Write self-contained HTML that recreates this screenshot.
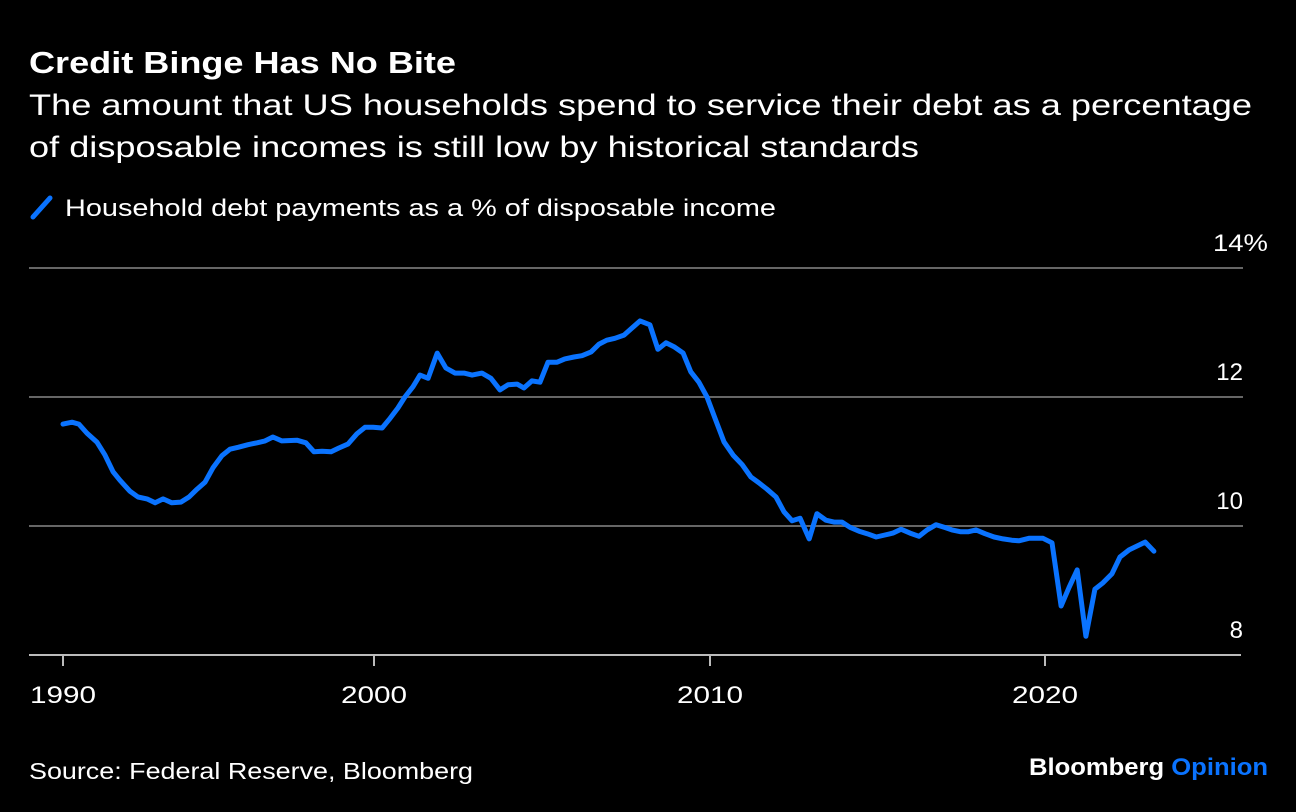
<!DOCTYPE html>
<html><head><meta charset="utf-8"><style>
body{margin:0;background:#000;width:1296px;height:812px;overflow:hidden;font-family:"Liberation Sans",sans-serif;color:#fff}
svg{position:absolute;left:0;top:0}
</style></head><body>
<svg width="1296" height="812">
<text x="29" y="73" font-size="31" font-weight="bold" fill="#fff" textLength="427" lengthAdjust="spacingAndGlyphs">Credit Binge Has No Bite</text>
<text x="29" y="115" font-size="30" fill="#fff" textLength="1223" lengthAdjust="spacingAndGlyphs">The amount that US households spend to service their debt as a percentage</text>
<text x="29" y="157" font-size="30" fill="#fff" textLength="890" lengthAdjust="spacingAndGlyphs">of disposable incomes is still low by historical standards</text>
<line x1="33" y1="217" x2="50" y2="198" stroke="#0a73ff" stroke-width="5" stroke-linecap="round"/>
<text x="65" y="216" font-size="24" fill="#fff" textLength="711" lengthAdjust="spacingAndGlyphs">Household debt payments as a % of disposable income</text>
<g id="grid"></g>
<g id="xaxis"></g>
<path id="line" fill="none" stroke="#0a73ff" stroke-width="5" stroke-linejoin="round" stroke-linecap="round"/>
<text x="29" y="779" font-size="23" fill="#fff" textLength="444" lengthAdjust="spacingAndGlyphs">Source: Federal Reserve, Bloomberg</text>
<text x="1029" y="775" font-size="24" font-weight="bold" textLength="239" lengthAdjust="spacingAndGlyphs"><tspan fill="#fff">Bloomberg </tspan><tspan fill="#0a73ff">Opinion</tspan></text>
</svg>
<script>
const dates=[1990.0,1990.29,1990.51,1990.77,1991.09,1991.35,1991.61,1991.83,1992.15,1992.41,1992.7,1992.96,1993.22,1993.5,1993.79,1994.05,1994.31,1994.57,1994.82,1995.11,1995.37,1995.63,1995.95,1996.24,1996.5,1996.75,1997.04,1997.52,1997.81,1998.07,1998.33,1998.62,1998.87,1999.16,1999.45,1999.71,1999.97,2000.24,2000.48,2000.71,2000.92,2001.16,2001.37,2001.61,2001.88,2002.14,2002.41,2002.68,2002.92,2003.21,2003.48,2003.75,2003.99,2004.26,2004.46,2004.7,2004.94,2005.18,2005.45,2005.68,2005.95,2006.19,2006.46,2006.7,2006.93,2007.17,2007.44,2007.68,2007.92,2008.21,2008.45,2008.69,2008.93,2009.2,2009.43,2009.67,2009.91,2010.15,2010.42,2010.69,2010.96,2011.22,2011.46,2011.7,2011.97,2012.21,2012.45,2012.69,2012.96,2013.19,2013.46,2013.7,2013.94,2014.18,2014.45,2014.69,2014.96,2015.22,2015.46,2015.7,2015.97,2016.24,2016.48,2016.75,2016.99,2017.22,2017.49,2017.7,2017.94,2018.21,2018.48,2018.75,2019.01,2019.22,2019.52,2019.94,2020.21,2020.48,2020.72,2020.96,2021.22,2021.49,2021.73,2022.0,2022.24,2022.51,2022.75,2022.99,2023.25];
const values=[11.58,11.61,11.58,11.44,11.30,11.10,10.84,10.71,10.54,10.45,10.42,10.36,10.42,10.36,10.37,10.45,10.57,10.68,10.90,11.09,11.19,11.22,11.26,11.29,11.32,11.38,11.32,11.33,11.29,11.15,11.16,11.15,11.21,11.27,11.43,11.53,11.53,11.52,11.67,11.83,12.00,12.16,12.34,12.29,12.68,12.45,12.37,12.37,12.34,12.37,12.29,12.11,12.19,12.20,12.14,12.25,12.23,12.54,12.54,12.59,12.62,12.64,12.70,12.82,12.88,12.91,12.96,13.07,13.18,13.12,12.74,12.84,12.78,12.68,12.39,12.23,12.00,11.67,11.30,11.10,10.95,10.76,10.67,10.57,10.45,10.22,10.08,10.12,9.80,10.19,10.09,10.06,10.06,9.98,9.92,9.88,9.83,9.86,9.89,9.95,9.89,9.84,9.94,10.02,9.98,9.94,9.91,9.91,9.94,9.88,9.83,9.80,9.78,9.77,9.81,9.81,9.74,8.76,9.05,9.32,8.29,9.02,9.12,9.26,9.52,9.63,9.69,9.75,9.61];
const xTicks=[1990,2000,2010,2020];
const yTicks=[8,10,12,14];
const yTickLabels=["8","10","12","14%"];

const xDom=[1990,2000,2010,2020], xRng=[63,374,710,1045];
function xs(t){let i=t<2000?0:(t<2010?1:2);return xRng[i]+(t-xDom[i])*(xRng[i+1]-xRng[i])/(xDom[i+1]-xDom[i]);}
function ys(v){return 655-(v-8)*64.5;}
const NS='http://www.w3.org/2000/svg';
const grid=document.getElementById('grid'), xa=document.getElementById('xaxis');
yTicks.forEach((v,i)=>{
  const y=ys(v);
  if(v>8){const l=document.createElementNS(NS,'line');
  l.setAttribute('x1',29);l.setAttribute('x2',1243);l.setAttribute('y1',y);l.setAttribute('y2',y);
  l.setAttribute('stroke','#666');l.setAttribute('stroke-width',2);
  
  
  grid.appendChild(l);}
  const t=document.createElementNS(NS,'text');
  t.setAttribute('x',1243);t.setAttribute('y',y-17);t.setAttribute('font-size',24);t.setAttribute('fill','#fff');
  if(yTickLabels[i].endsWith('%')){t.textContent=yTickLabels[i];t.setAttribute('x',1213);t.setAttribute('textLength',55);t.setAttribute('lengthAdjust','spacingAndGlyphs');}
  else{t.textContent=yTickLabels[i];t.setAttribute('text-anchor','end');}
  
  
  grid.appendChild(t);
});
const ax=document.createElementNS(NS,'line');
ax.setAttribute('x1',29);ax.setAttribute('x2',1241);ax.setAttribute('y1',655);ax.setAttribute('y2',655);
ax.setAttribute('stroke','#bbb');ax.setAttribute('stroke-width',2);


xa.appendChild(ax);
xTicks.forEach(yr=>{
  const x=xs(yr);
  const tk=document.createElementNS(NS,'line');
  tk.setAttribute('x1',x);tk.setAttribute('x2',x);tk.setAttribute('y1',655);tk.setAttribute('y2',666);
  tk.setAttribute('stroke','#bbb');tk.setAttribute('stroke-width',2);
  
  
  xa.appendChild(tk);
  const t=document.createElementNS(NS,'text');
  t.setAttribute('x',x-33);t.setAttribute('y',703);t.setAttribute('font-size',24);t.setAttribute('fill','#fff');
  t.setAttribute('textLength',66);t.setAttribute('lengthAdjust','spacingAndGlyphs');
  t.textContent=yr;
  
  
  xa.appendChild(t);
});
document.getElementById('line').setAttribute('d',dates.map((d,i)=>(i?'L':'M')+xs(d).toFixed(1)+','+ys(values[i]).toFixed(1)).join(''));
</script>
</body></html>
